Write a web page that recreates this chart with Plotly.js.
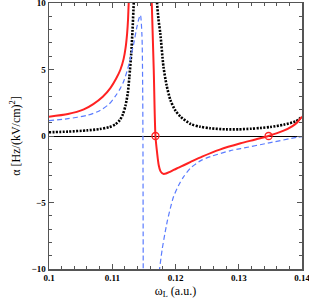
<!DOCTYPE html>
<html>
<head>
<meta charset="utf-8">
<script src="https://cdn.plot.ly/plotly-3.0.1.min.js"></script>
<style>html,body{margin:0;padding:0;background:#fff;}#chart{width:309px;height:304px;}</style>
</head>
<body>
<div id="chart"></div>
<script>
// Black dotted curve (two branches)
const blackLeftX = [0.1000, 0.1030, 0.1060, 0.1080, 0.1095, 0.1105, 0.1112, 0.1117, 0.1121, 0.11245, 0.1127, 0.1130, 0.1132, 0.1134, 0.1135];
const blackLeftY = [0.28, 0.33, 0.42, 0.52, 0.66, 0.88, 1.2, 1.65, 2.3, 3.2, 4.4, 6.2, 7.9, 10, 10.8];
const blackRightX = [0.1170, 0.11709, 0.1173, 0.1176, 0.1181, 0.1186, 0.1192, 0.1200, 0.1208, 0.1224, 0.1239, 0.1255, 0.1280, 0.1300, 0.1320, 0.1334, 0.1350, 0.1371, 0.1390, 0.1400];
const blackRightY = [10.8, 10, 8.8, 7.7, 5.2, 3.8, 2.7, 1.9, 1.45, 0.9, 0.7, 0.58, 0.5, 0.5, 0.55, 0.6, 0.68, 0.85, 1.1, 1.45];

// Red solid curve (two branches)
const redLeftX = [0.1000, 0.1030, 0.1055, 0.1070, 0.1085, 0.1097, 0.1106, 0.1113, 0.1118, 0.1121, 0.11235, 0.1125, 0.1126, 0.1127];
const redLeftY = [1.45, 1.65, 2.0, 2.4, 2.95, 3.6, 4.3, 5.0, 5.8, 6.6, 7.7, 8.8, 10, 10.8];
const redRightX = [0.1162, 0.11656, 0.11683, 0.1171, 0.11735, 0.1176, 0.1179, 0.11814, 0.1185, 0.1190, 0.1197, 0.1205, 0.1213, 0.1224, 0.1242, 0.1270, 0.1303, 0.1325, 0.1347, 0.1370, 0.1385, 0.1392, 0.1400];
const redRightY = [10.8, 5, 0, -1.3, -2.2, -2.62, -2.8, -2.85, -2.82, -2.72, -2.55, -2.38, -2.2, -1.95, -1.55, -1.02, -0.55, -0.28, 0, 0.38, 0.75, 1.0, 1.45];

// Blue dashed curve (two branches)
const blueLeftX = [0.1000, 0.1030, 0.1060, 0.1080, 0.1095, 0.1105, 0.1113, 0.1118, 0.11235, 0.1129, 0.1134, 0.1139, 0.1142, 0.11445, 0.1147, 0.1148, 0.11485, 0.1149];
const blueLeftY = [1.15, 1.3, 1.55, 1.9, 2.4, 3.0, 3.6, 4.1, 4.9, 5.9, 6.95, 8.2, 8.8, 9.1, 7.5, 4.2, 0, -10.8];
const blueRightX = [0.1173, 0.11748, 0.1179, 0.1183, 0.1187, 0.1192, 0.1197, 0.1205, 0.1213, 0.1224, 0.1240, 0.1255, 0.1287, 0.1303, 0.1350, 0.1392, 0.1400];
const blueRightY = [-10.8, -10, -8.5, -7.4, -6.4, -5.4, -4.55, -3.7, -3.05, -2.4, -1.85, -1.55, -1.1, -0.95, -0.5, -0.1, -0.05];

// Zero crossings (magic frequencies)
const crossX = [0.11683, 0.13472];
const crossY = [0, 0];

const xTickVals = [0.1, 0.11, 0.12, 0.13, 0.14];
const xTickText = ["0.1", "0.11", "0.12", "0.13", "0.14"];
const yTickVals = [-10, -5, 0, 5, 10];
const yTickText = ["−10", "−5", "0", "5", "10"];

const red = "#ff2222", blue = "#5b7cff", black = "#000000";
const serif = "Liberation Serif, DejaVu Serif, serif";
const sm = {shape: "spline", smoothing: 0.7};

const traces = [
  {x: blackLeftX, y: blackLeftY, mode: "lines", line: Object.assign({color: black, width: 2.6, dash: "2px,1.4px"}, sm)},
  {x: blackRightX, y: blackRightY, mode: "lines", line: Object.assign({color: black, width: 2.6, dash: "2px,1.4px"}, sm)},
  {x: blueLeftX, y: blueLeftY, mode: "lines", line: Object.assign({color: blue, width: 1.2, dash: "5px,3px"}, sm)},
  {x: blueRightX, y: blueRightY, mode: "lines", line: Object.assign({color: blue, width: 1.2, dash: "5px,3px"}, sm)},
  {x: redLeftX, y: redLeftY, mode: "lines", line: Object.assign({color: red, width: 2}, sm)},
  {x: redRightX, y: redRightY, mode: "lines", line: Object.assign({color: red, width: 2}, sm)},
  {x: crossX, y: crossY, mode: "markers", marker: {symbol: "circle-open", size: 7, color: red, line: {width: 1.3, color: red}}, cliponaxis: false}
];

const layout = {
  width: 309, height: 304,
  margin: {l: 48.5, r: 7.3, t: 2.5, b: 34.5},
  paper_bgcolor: "#fff", plot_bgcolor: "#fff",
  showlegend: false,
  font: {family: serif, color: "#000"},
  xaxis: {
    range: [0.1, 0.14], tickmode: "array", tickvals: xTickVals, ticktext: xTickText,
    ticklabeloverflow: "allow",
    ticks: "inside", ticklen: 5, tickwidth: 1, tickcolor: "#555",
    minor: {dtick: 0.002, tick0: 0.1, ticks: "inside", ticklen: 3, tickcolor: "#555", tickwidth: 1},
    showline: true, linecolor: "#555", linewidth: 1.5, mirror: "allticks",
    showgrid: false, zeroline: false,
    tickfont: {family: serif, size: 9, weight: 700},
    title: {text: "ω<sub>L</sub> (a.u.)", font: {family: serif, size: 12}, standoff: 4}
  },
  yaxis: {
    range: [-10, 10], tickmode: "array", tickvals: yTickVals, ticktext: yTickText,
    ticklabeloverflow: "allow",
    ticks: "inside", ticklen: 5, tickwidth: 1, tickcolor: "#555",
    minor: {dtick: 1, tick0: 0, ticks: "inside", ticklen: 3, tickcolor: "#555", tickwidth: 1},
    showline: true, linecolor: "#555", linewidth: 1.5, mirror: "allticks",
    showgrid: false, zeroline: true, zerolinecolor: "#000", zerolinewidth: 1,
    tickfont: {family: serif, size: 9, weight: 700},
    title: {text: "α [Hz/(kV/cm)<sup>2</sup>]", font: {family: serif, size: 12}, standoff: 8}
  }
};

Plotly.newPlot("chart", traces, layout, {displayModeBar: false, staticPlot: true});
</script>
</body>
</html>
